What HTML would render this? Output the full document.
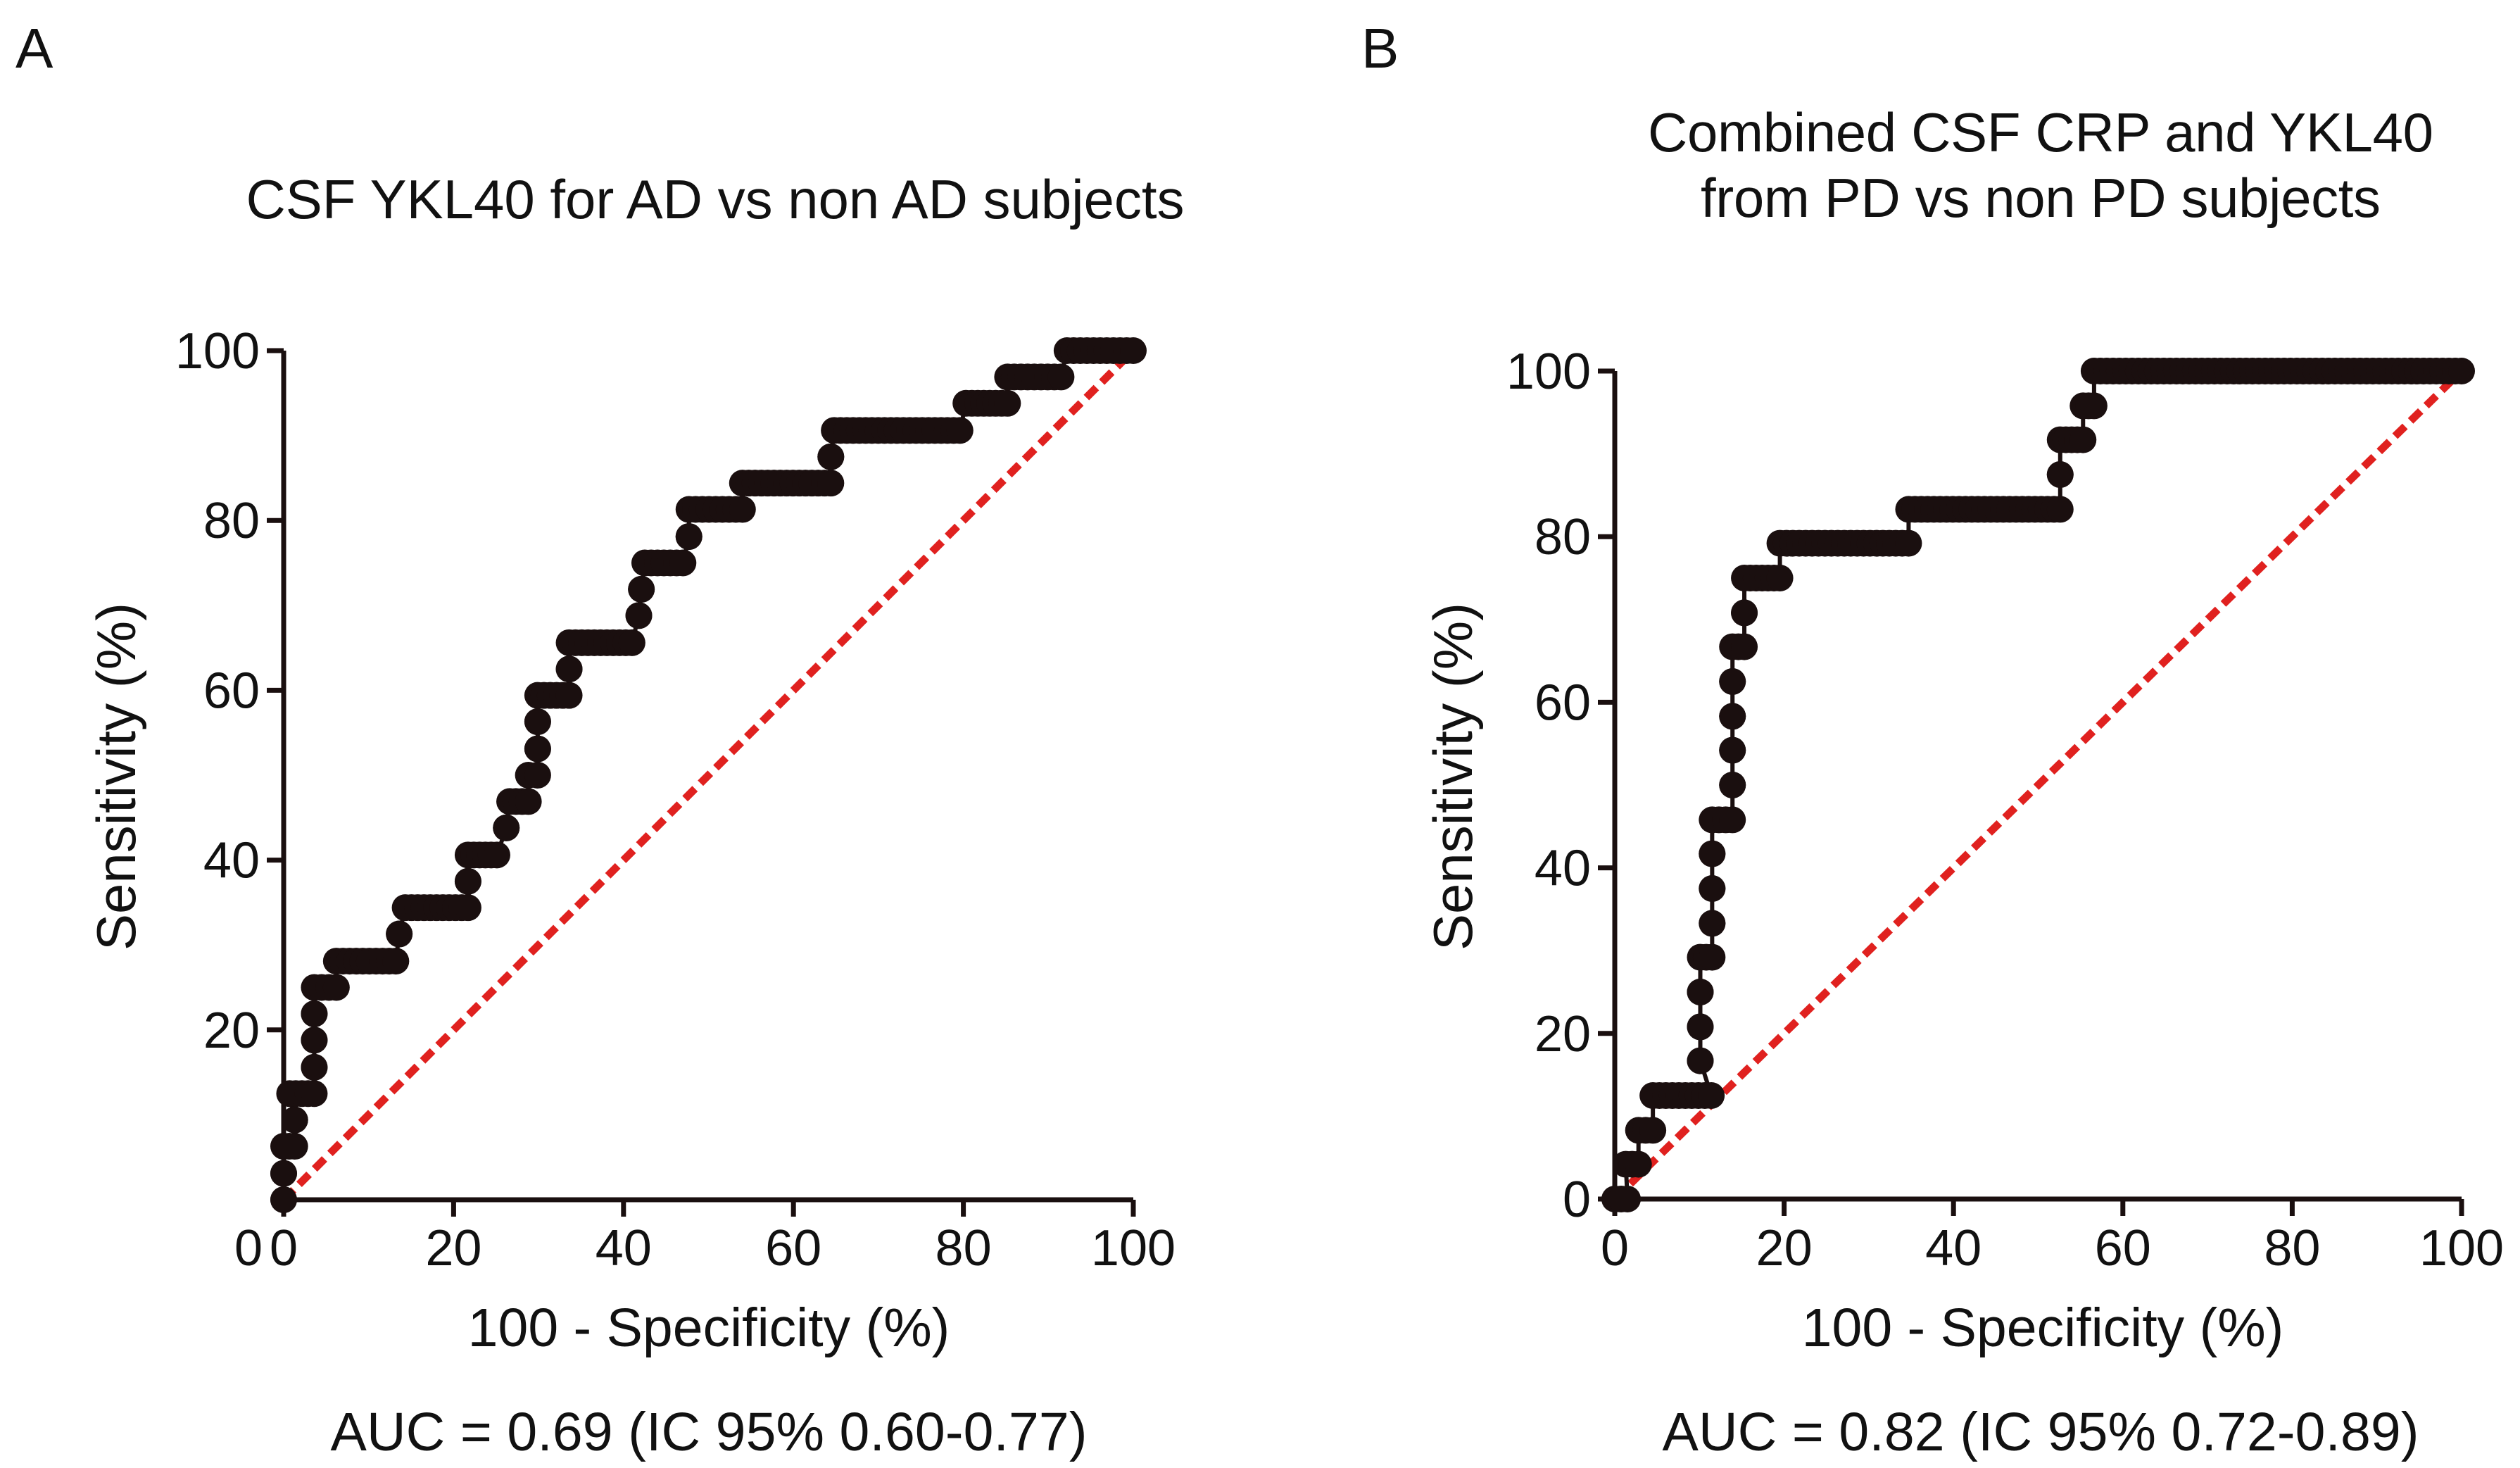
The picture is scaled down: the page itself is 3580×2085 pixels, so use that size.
<!DOCTYPE html>
<html><head><meta charset="utf-8"><style>
html,body{margin:0;padding:0;background:#fff;}
svg{display:block;font-family:"Liberation Sans",Arial,sans-serif;}
</style></head><body>
<svg id="fig" width="3580" height="2085" viewBox="0 0 3580 2085" xmlns="http://www.w3.org/2000/svg">
<text x="22" y="96" font-size="80" fill="#111">A</text>
<text x="1934" y="96" font-size="80" fill="#111">B</text>
<text x="1016" y="310" font-size="78" fill="#111" text-anchor="middle" textLength="1333">CSF YKL40 for AD vs non AD subjects</text>
<text x="2899" y="215" font-size="78" fill="#111" text-anchor="middle" textLength="1116">Combined CSF CRP and YKL40</text>
<text x="2899" y="308" font-size="78" fill="#111" text-anchor="middle" textLength="966">from PD vs non PD subjects</text>
<g id="chartA"></g>
<g id="chartB"></g>
<text x="1007" y="1912" font-size="77" fill="#111" text-anchor="middle">100 - Specificity (%)</text>
<text x="2902" y="1912" font-size="77" fill="#111" text-anchor="middle">100 - Specificity (%)</text>
<text x="1007" y="2060" font-size="77" fill="#111" text-anchor="middle" textLength="1075">AUC = 0.69 (IC 95% 0.60-0.77)</text>
<text x="2899" y="2060" font-size="77" fill="#111" text-anchor="middle" textLength="1075">AUC = 0.82 (IC 95% 0.72-0.89)</text>
<text transform="translate(192,1103) rotate(-90)" font-size="78" fill="#111" text-anchor="middle">Sensitivity (%)</text>
<text transform="translate(2091,1103) rotate(-90)" font-size="78" fill="#111" text-anchor="middle">Sensitivity (%)</text>
</svg>
<script>
const NS="http://www.w3.org/2000/svg";
const xTicks=[0,20,40,60,80,100];
const yTicksA=[20,40,60,80,100];
const yTicksB=[0,20,40,60,80,100];
// Panel A: horizontal runs of ROC points (fpr start, fpr end, sensitivity)
const aX0=[0,0,0,1.3,0.7,3.6,3.6,3.6,3.6,6.2,13.6,14.3,21.7,21.7,26.2,26.6,28.8,29.9,29.9,29.9,33.6,33.6,41.8,42.1,42.5,47.7,47.7,54,64.4,64.8,80.3,85.2,92.2];
const aX1=[0,0,1.3,1.3,3.6,3.6,3.6,3.6,6.2,13.2,13.6,21.7,21.7,25.1,26.2,28.8,29.9,29.9,29.9,33.6,33.6,41,41.8,42.1,47,47.7,54,64.4,64.4,79.6,85.2,91.5,100];
const aY=[0,3.1,6.3,9.4,12.5,15.6,18.8,21.9,25,28.1,31.3,34.4,37.5,40.6,43.8,46.9,50,53.1,56.3,59.4,62.5,65.6,68.8,71.9,75,78.1,81.3,84.4,87.5,90.6,93.8,96.9,100];
// Panel B
const bX0=[0,1.3,2.8,4.5,10.1,10.1,10.1,10.1,11.5,11.5,11.5,11.5,13.9,13.9,13.9,13.9,13.9,15.3,15.3,19.5,34.7,52.6,52.6,55.3,56.6];
const bX1=[1.5,2.8,4.5,11.4,10.1,10.1,10.1,11.5,11.5,11.5,11.5,13.9,13.9,13.9,13.9,13.9,15.3,15.3,19.5,34.7,52.6,52.6,55.3,56.6,100];
const bY=[0,4.2,8.3,12.5,16.7,20.8,25,29.2,33.3,37.5,41.7,45.8,50,54.2,58.3,62.5,66.7,70.8,75,79.2,83.3,87.5,91.7,95.8,100];

function mk(tag,attrs,parent){const e=document.createElementNS(NS,tag);for(const k in attrs)e.setAttribute(k,attrs[k]);parent.appendChild(e);return e;}

function draw(gid,L,R,T,B,yTicks,X0,X1,Y,doubleZero){
  const g=document.getElementById(gid);
  const sx=v=>L+(R-L)*v/100, sy=v=>B-(B-T)*v/100;
  const d=mk('line',{x1:sx(0),y1:sy(0),x2:sx(100),y2:sy(100),stroke:'#e0211f','stroke-width':11,'stroke-dasharray':'20 11'},g);
  
  
  let pts=[];
  for(let i=0;i<Y.length;i++){pts.push(sx(X0[i])+','+sy(Y[i]));pts.push(sx(X1[i])+','+sy(Y[i]));}
  const pl=mk('polyline',{points:pts.join(' '),fill:'none',stroke:'#1a0f0f','stroke-width':6},g);
  
  
  for(let i=0;i<Y.length;i++){
    const a=sx(X0[i]),b=sx(X1[i]);const n=Math.max(1,Math.round((b-a)/9));
    for(let k=0;k<=n;k++){
      const c=mk('circle',{cx:a+(b-a)*k/n,cy:sy(Y[i]),r:19,fill:'#1a0f0f'},g);
      
      
    }
  }
  const ax=mk('path',{d:`M${L},${T} V${B} H${R}`,fill:'none',stroke:'#1a0f0f','stroke-width':7},g);
  
  
  for(const t of xTicks){
    mk('line',{x1:sx(t),y1:B,x2:sx(t),y2:B+24,stroke:'#1a0f0f','stroke-width':7},g);
    const tx=mk('text',{x:sx(t),y:1797,'font-size':72,fill:'#111','text-anchor':'middle'},g);
    tx.textContent=t;
    
    
  }
  if(doubleZero){
    const z=mk('text',{x:L-30,y:1797,'font-size':72,fill:'#111','text-anchor':'end'},g);
    z.textContent='0';
    
    
  }
  for(const t of yTicks){
    mk('line',{x1:L-24,y1:sy(t),x2:L,y2:sy(t),stroke:'#1a0f0f','stroke-width':7},g);
    const ty=mk('text',{x:L-34,y:sy(t)+25,'font-size':72,fill:'#111','text-anchor':'end'},g);
    ty.textContent=t;
    
    
  }
}
draw('chartA',403,1610,498,1704,yTicksA,aX0,aX1,aY,true);
draw('chartB',2294,3497,527,1703,yTicksB,bX0,bX1,bY,false);
</script>
</body></html>
